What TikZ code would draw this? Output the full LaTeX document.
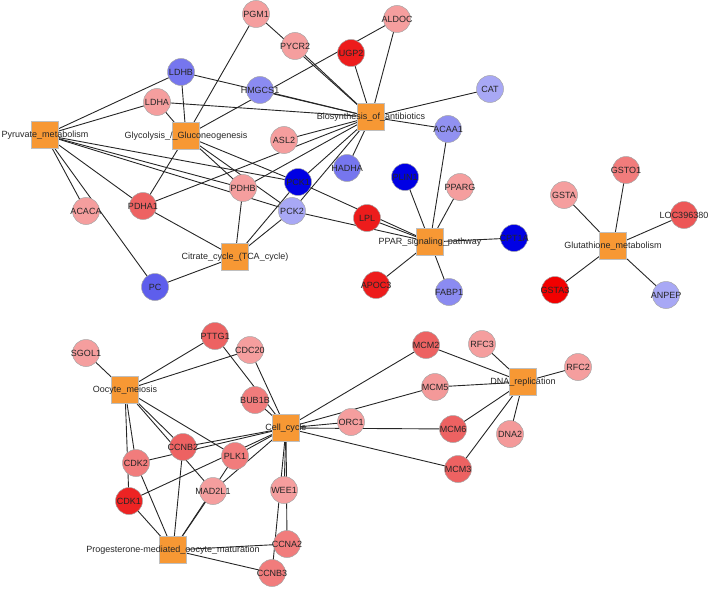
\documentclass[tikz,border=0pt]{standalone}
\usepackage{fontspec}
\setsansfont{Liberation Sans}
\usepackage{tikz}
\usetikzlibrary{backgrounds}
\definecolor{pathorange}{RGB}{247,152,52}
\definecolor{upstrong}{RGB}{237,28,28}
\definecolor{upmid}{RGB}{237,98,98}
\definecolor{upsoft}{RGB}{241,124,124}
\definecolor{uplight}{RGB}{245,158,158}
\definecolor{downstrong}{RGB}{0,0,228}
\definecolor{downmid}{RGB}{118,118,238}
\definecolor{downlight}{RGB}{168,168,245}
\tikzset{
  gene/.style={circle,draw=black!35,line width=0.5pt,minimum size=27pt,inner sep=0pt},
  pathway/.style={rectangle,draw=black!25,line width=0.5pt,fill=pathorange,minimum size=27pt,inner sep=0pt},
  link/.style={draw=black!85,line width=0.9pt}
}

\begin{document}
\begin{tikzpicture}[x=1pt,y=-1pt,
    every label/.style={font=\sffamily\fontsize{9}{10}\selectfont,text=black!85,inner sep=0pt}]
  \useasboundingbox (0,0) rectangle (708,588);

  % metabolic pathways
  \node[pathway,label=center:Pyruvate\_metabolism] (pyruvate) at (45,135) {};
  \node[pathway,label=center:Glycolysis\_/\_Gluconeogenesis] (glycolysis) at (186,136) {};
  \node[pathway,label=center:Biosynthesis\_of\_antibiotics] (antibiotics) at (371,117) {};
  \node[pathway,label=center:Citrate\_cycle\_(TCA\_cycle)] (citrate) at (235,257) {};
  \node[pathway,label=center:PPAR\_signaling\_pathway] (ppar) at (430,242) {};
  \node[pathway,label=center:Glutathione\_metabolism] (glutathione) at (613,246) {};

  % cell cycle pathways
  \node[pathway,label=center:Oocyte\_meiosis] (oocyte) at (125,390) {};
  \node[pathway,label=center:Cell\_cycle] (cellcycle) at (286,428) {};
  \node[pathway,label=center:Progesterone-mediated\_oocyte\_maturation] (progesterone) at (173,550) {};
  \node[pathway,label=center:DNA\_replication] (dnarep) at (523,382) {};

  % genes, top
  \node[gene,fill=uplight,label=center:PGM1] (PGM1) at (256,14) {};
  \node[gene,fill=uplight,label=center:PYCR2] (PYCR2) at (295,46) {};
  \node[gene,fill=upstrong,label=center:UGP2] (UGP2) at (351,53) {};
  \node[gene,fill=uplight,label=center:ALDOC] (ALDOC) at (397,19) {};
  \node[gene,fill=downmid,label=center:LDHB] (LDHB) at (181,72) {};
  \node[gene,fill=downmid!85,label=center:HMGCS1] (HMGCS1) at (260,90) {};
  \node[gene,fill=downlight,label=center:CAT] (CAT) at (490,89) {};
  \node[gene,fill=uplight,label=center:LDHA] (LDHA) at (157,102) {};
  \node[gene,fill=uplight,label=center:ASL2] (ASL2) at (284,140) {};
  \node[gene,fill=downmid!80,label=center:ACAA1] (ACAA1) at (448,129) {};
  \node[gene,fill=downmid,label=center:HADHA] (HADHA) at (347,168) {};
  \node[gene,fill=downstrong,label=center:PCK1] (PCK1) at (298,182) {};
  \node[gene,fill=uplight,label=center:PDHB] (PDHB) at (243,188) {};
  \node[gene,fill=upmid,label=center:PDHA1] (PDHA1) at (143,206) {};
  \node[gene,fill=uplight,label=center:ACACA] (ACACA) at (86,211) {};
  \node[gene,fill=downlight,label=center:PCK2] (PCK2) at (292,211) {};
  \node[gene,fill=downstrong,label=center:PLIN1] (PLIN1) at (405,177) {};
  \node[gene,fill=uplight,label=center:PPARG] (PPARG) at (460,187) {};
  \node[gene,fill=upstrong,label=center:LPL] (LPL) at (367,218) {};
  \node[gene,fill=downstrong,label=center:CPT1A] (CPT1A) at (514,238) {};
  \node[gene,fill=upstrong,label=center:APOC3] (APOC3) at (376,285) {};
  \node[gene,fill=downmid!85,label=center:FABP1] (FABP1) at (449,292) {};
  \node[gene,fill=downmid!80!downstrong,label=center:PC] (PC) at (155,287) {};
  \node[gene,fill=upsoft,label=center:GSTO1] (GSTO1) at (626,170) {};
  \node[gene,fill=uplight,label=center:GSTA] (GSTA) at (564,195) {};
  \node[gene,fill=upmid!85!upstrong,label=center:LOC396380] (LOC396380) at (684,215) {};
  \node[gene,fill=red!95!black,label=center:GSTA3] (GSTA3) at (555,290) {};
  \node[gene,fill=downlight,label=center:ANPEP] (ANPEP) at (666,295) {};

  % genes, bottom
  \node[gene,fill=uplight,label=center:SGOL1] (SGOL1) at (86,353) {};
  \node[gene,fill=upmid,label=center:PTTG1] (PTTG1) at (215,336) {};
  \node[gene,fill=uplight,label=center:CDC20] (CDC20) at (250,350) {};
  \node[gene,fill=upsoft,label=center:BUB1B] (BUB1B) at (255,400) {};
  \node[gene,fill=uplight,label=center:ORC1] (ORC1) at (351,422) {};
  \node[gene,fill=upmid,label=center:MCM2] (MCM2) at (426,345) {};
  \node[gene,fill=uplight,label=center:RFC3] (RFC3) at (482,344) {};
  \node[gene,fill=uplight,label=center:RFC2] (RFC2) at (578,367) {};
  \node[gene,fill=uplight!85!upsoft,label=center:MCM5] (MCM5) at (435,387) {};
  \node[gene,fill=upmid,label=center:MCM6] (MCM6) at (453,429) {};
  \node[gene,fill=uplight!85!upsoft,label=center:DNA2] (DNA2) at (510,434) {};
  \node[gene,fill=upmid,label=center:MCM3] (MCM3) at (458,469) {};
  \node[gene,fill=upmid,label=center:CCNB2] (CCNB2) at (183,447) {};
  \node[gene,fill=upsoft,label=center:PLK1] (PLK1) at (235,456) {};
  \node[gene,fill=upsoft,label=center:CDK2] (CDK2) at (136,463) {};
  \node[gene,fill=uplight,label=center:MAD2L1] (MAD2L1) at (213,491) {};
  \node[gene,fill=uplight,label=center:WEE1] (WEE1) at (284,490) {};
  \node[gene,fill=upstrong!90!upmid,label=center:CDK1] (CDK1) at (129,501) {};
  \node[gene,fill=upsoft,label=center:CCNA2] (CCNA2) at (287,544) {};
  \node[gene,fill=upsoft,label=center:CCNB3] (CCNB3) at (272,573) {};

  \begin{scope}[on background layer]
    \foreach \g in {LDHB,LDHA,PCK1,PDHB,PCK2,PDHA1,ACACA,PC}
      \draw[link] (pyruvate.center) -- (\g.center);
    \foreach \g in {LDHB,LDHA,PGM1,ALDOC,PDHA1,PDHB,PCK1,PCK2}
      \draw[link] (glycolysis.center) -- (\g.center);
    \foreach \g in {PGM1,PYCR2,UGP2,ALDOC,CAT,ACAA1,HADHA,ASL2,HMGCS1,LDHB,LDHA,PDHA1,PDHB,PCK1,PCK2}
      \draw[link] (antibiotics.center) -- (\g.center);
    \foreach \g in {PDHA1,PDHB,PCK1,PCK2,PC}
      \draw[link] (citrate.center) -- (\g.center);
    \foreach \g in {PLIN1,PPARG,ACAA1,CPT1A,FABP1,APOC3,LPL,PCK1,PCK2}
      \draw[link] (ppar.center) -- (\g.center);
    \foreach \g in {GSTO1,GSTA,LOC396380,GSTA3,ANPEP}
      \draw[link] (glutathione.center) -- (\g.center);
    \foreach \g in {SGOL1,PTTG1,CDC20,CDK2,CDK1,CCNB2,MAD2L1,PLK1}
      \draw[link] (oocyte.center) -- (\g.center);
    \foreach \g in {PTTG1,CDC20,BUB1B,ORC1,MCM2,MCM5,MCM6,MCM3,CCNB2,PLK1,CDK1,CDK2,MAD2L1,WEE1,CCNA2,CCNB3}
      \draw[link] (cellcycle.center) -- (\g.center);
    \foreach \g in {CDK1,CDK2,CCNB2,MAD2L1,PLK1,CCNA2,CCNB3}
      \draw[link] (progesterone.center) -- (\g.center);
    \foreach \g in {MCM2,RFC3,RFC2,MCM5,MCM6,DNA2,MCM3}
      \draw[link] (dnarep.center) -- (\g.center);
  \end{scope}
\end{tikzpicture}
\end{document}
